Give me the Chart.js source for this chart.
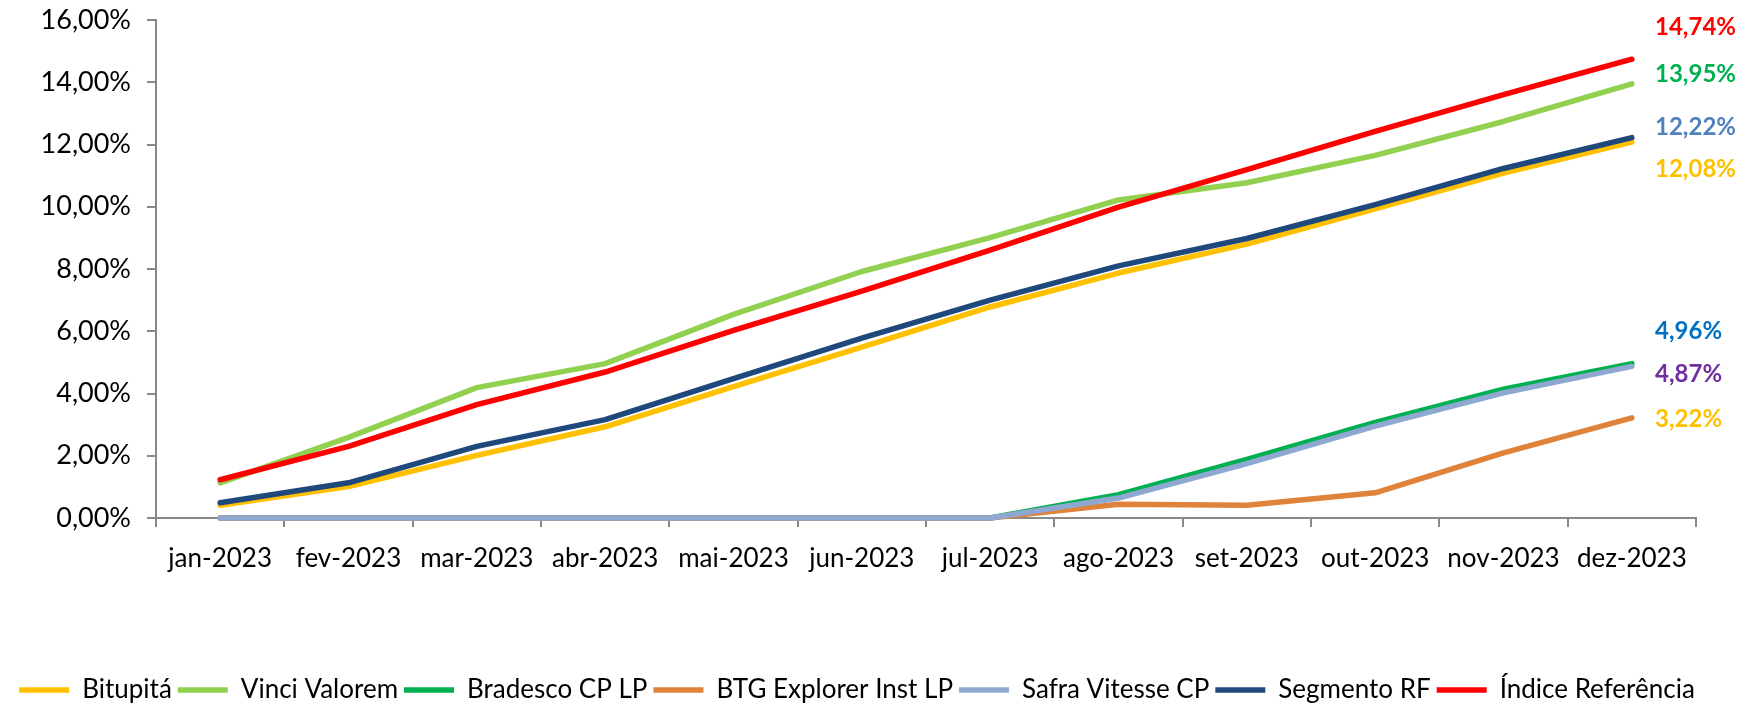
<!DOCTYPE html>
<html>
<head>
<meta charset="utf-8">
<script src="https://cdn.jsdelivr.net/npm/chart.js@4/dist/chart.umd.min.js"></script>
<style>
  html, body { margin: 0; padding: 0; background: #fff; }
  #wrap { width: 1754px; height: 706px; }
</style>
</head>
<body>
<div id="wrap"><canvas id="rentChart" width="1754" height="706"></canvas></div>
<script>
// dados (% acumulado)
const months = ['jan-2023', 'fev-2023', 'mar-2023', 'abr-2023', 'mai-2023', 'jun-2023',
                'jul-2023', 'ago-2023', 'set-2023', 'out-2023', 'nov-2023', 'dez-2023'];
const bitupita = [0.41, 1.01, 2.01, 2.93, 4.22, 5.49, 6.78, 7.87, 8.80, 9.93, 11.08, 12.08];
const vinci    = [1.13, 2.59, 4.19, 4.96, 6.54, 7.92, 9.01, 10.22, 10.77, 11.65, 12.74, 13.95];
const bradesco = [0, 0, 0, 0, 0, 0, 0, 0.75, 1.88, 3.07, 4.14, 4.96];
const btg      = [0, 0, 0, 0, 0, 0, 0, 0.44, 0.41, 0.81, 2.09, 3.22];
const safra    = [0, 0, 0, 0, 0, 0, 0, 0.64, 1.75, 2.95, 4.02, 4.87];
const segmento = [0.49, 1.13, 2.30, 3.16, 4.48, 5.78, 7.00, 8.10, 8.98, 10.07, 11.23, 12.22];
const indice   = [1.23, 2.30, 3.64, 4.69, 6.03, 7.29, 8.61, 9.99, 11.19, 12.42, 13.60, 14.74];
const yTicks = [0, 2, 4, 6, 8, 10, 12, 14, 16];

const series = [
    { label: 'Bitupitá', data: bitupita, color: '#FFC000' },
    { label: 'Vinci Valorem', data: vinci, color: '#92D050' },
    { label: 'Bradesco CP LP', data: bradesco, color: '#00B050' },
    { label: 'BTG Explorer Inst LP', data: btg, color: '#DF823A' },
    { label: 'Safra Vitesse CP', data: safra, color: '#8EA8D2' },
    { label: 'Segmento RF', data: segmento, color: '#1F487C' },
    { label: 'Índice Referência', data: indice, color: '#FF0000' }
];

// rótulos do último mês: [dataset, cor, deslocamento em px]
const endLabels = [
    [6, '#FF0000', -32],
    [1, '#00B050', -10],
    [5, '#4F81BD', -10],
    [0, '#FFC000', 27],
    [2, '#0070C0', -32],
    [4, '#7030A0', 8],
    [3, '#FFC000', 1]
];

const fmt = v => v.toFixed(2).replace('.', ',') + '%';

const endLabelPlugin = {
    id: 'endLabels',
    afterDatasetsDraw(chart) {
        const ctx = chart.ctx;
        const y = chart.scales.y;
        const x0 = chart.chartArea.right - 41;
        ctx.save();
        ctx.font = 'bold 24px Lato';
        ctx.textAlign = 'left';
        ctx.textBaseline = 'middle';
        endLabels.forEach(([i, color, dy]) => {
            const d = chart.data.datasets[i].data;
            const v = d[d.length - 1];
            ctx.fillStyle = color;
            ctx.fillText(fmt(v), x0, y.getPixelForValue(v) + dy);
        });
        ctx.restore();
    }
};

function draw() {
    const ctx = document.getElementById('rentChart').getContext('2d');
    new Chart(ctx, {
        type: 'line',
        data: {
            labels: months,
            datasets: series.map((s, i) => ({
                label: s.label,
                data: s.data,
                borderColor: s.color,
                backgroundColor: s.color,
                borderWidth: 5.5,
                borderCapStyle: 'round',
                borderJoinStyle: 'round',
                pointRadius: 0,
                tension: 0,
                clip: false,
                order: series.length - i
            }))
        },
        options: {
            responsive: false,
            animation: false,
            layout: { padding: { left: 0, right: 40, top: 20, bottom: -7 } },
            plugins: {
                tooltip: { enabled: false },
                legend: {
                    position: 'bottom',
                    labels: {
                        font: { family: 'Lato', size: 26 },
                        color: '#000',
                        usePointStyle: true,
                        pointStyle: 'line',
                        pointStyleWidth: 50,
                        padding: 6,
                        sort: (a, b) => a.datasetIndex - b.datasetIndex
                    }
                }
            },
            scales: {
                x: {
                    offset: true,
                    grid: { offset: true, drawOnChartArea: false, tickLength: 9, color: '#888', lineWidth: 2 },
                    border: { color: '#888', width: 2 },
                    ticks: { font: { family: 'Lato', size: 26 }, color: '#000', padding: 16, maxRotation: 0, autoSkip: false },
                    afterFit: s => { s.height = 153; }
                },
                y: {
                    min: 0,
                    max: 16,
                    afterBuildTicks: s => { s.ticks = yTicks.map(v => ({ value: v })); },
                    grid: { drawOnChartArea: false, tickLength: 9, color: '#888', lineWidth: 2 },
                    border: { color: '#888', width: 2 },
                    ticks: { font: { family: 'Lato', size: 27 }, color: '#000', padding: 16, callback: v => fmt(v) },
                    afterFit: s => { s.width = 156; s.paddingTop = 0; s.paddingBottom = 0; }
                },
                // espaço à direita para os rótulos finais
                yRight: {
                    position: 'right',
                    display: true,
                    ticks: { display: false },
                    grid: { display: false },
                    border: { display: false },
                    afterFit: s => { s.width = 18; }
                }
            }
        },
        plugins: [endLabelPlugin]
    });
}

document.fonts.load('25px Lato').then(draw, draw);
</script>
</body>
</html>
